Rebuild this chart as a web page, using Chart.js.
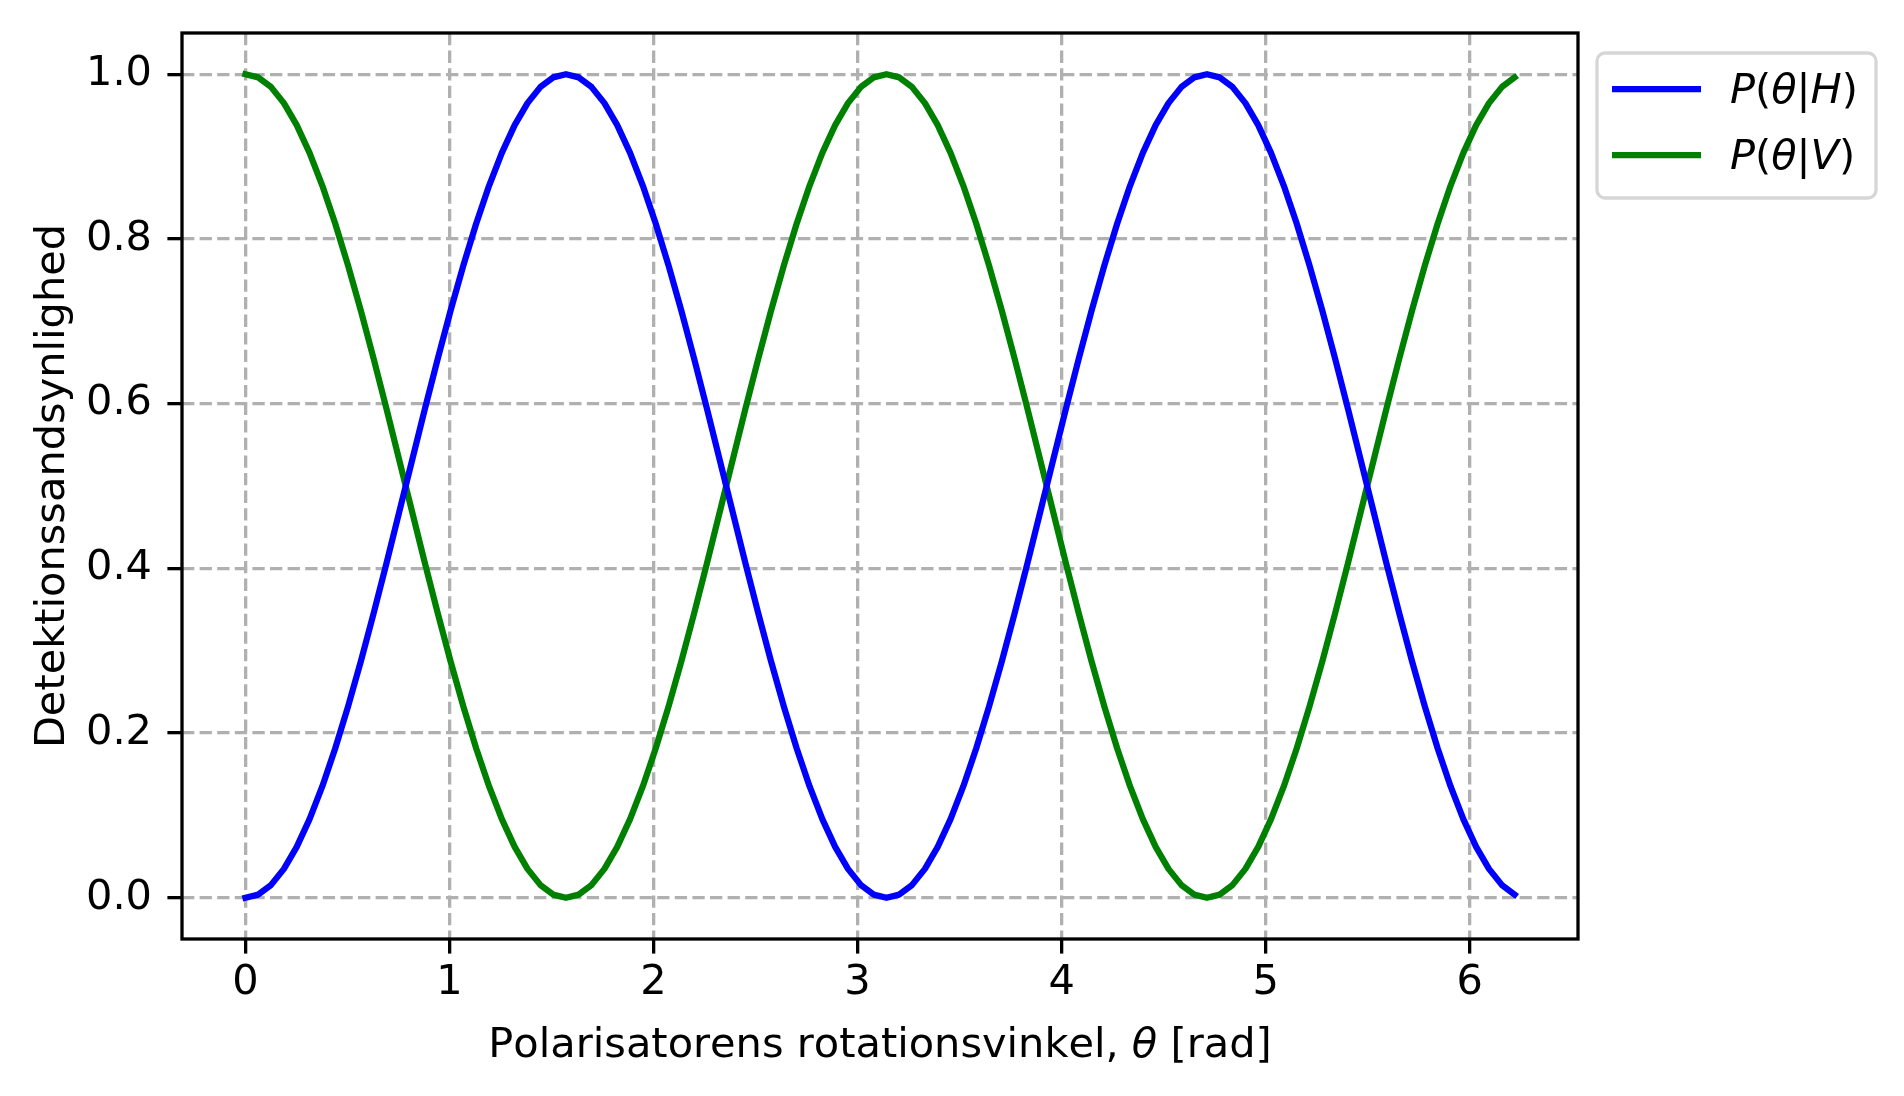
<!DOCTYPE html>
<html><head><meta charset="utf-8">
<script src="https://cdn.jsdelivr.net/npm/chart.js@4.4.0/dist/chart.umd.min.js"></script>
<style>html,body{margin:0;padding:0;background:#fff;overflow:hidden}canvas{display:block}</style>
</head><body>
<canvas id="c" width="1904" height="1096" style="width:1904px;height:1096px"></canvas>
<script>
const thetaValues = [
  0, 0.0628, 0.1257, 0.1885, 0.2513, 0.3142, 0.3770, 0.4398, 0.5027, 0.5655,
  0.6283, 0.6912, 0.7540, 0.8168, 0.8796, 0.9425, 1.0053, 1.0681, 1.1310, 1.1938,
  1.2566, 1.3195, 1.3823, 1.4451, 1.5080, 1.5708, 1.6336, 1.6965, 1.7593, 1.8221,
  1.8850, 1.9478, 2.0106, 2.0735, 2.1363, 2.1991, 2.2619, 2.3248, 2.3876, 2.4504,
  2.5133, 2.5761, 2.6389, 2.7018, 2.7646, 2.8274, 2.8903, 2.9531, 3.0159, 3.0788,
  3.1416, 3.2044, 3.2673, 3.3301, 3.3929, 3.4558, 3.5186, 3.5814, 3.6442, 3.7071,
  3.7699, 3.8327, 3.8956, 3.9584, 4.0212, 4.0841, 4.1469, 4.2097, 4.2726, 4.3354,
  4.3982, 4.4611, 4.5239, 4.5867, 4.6496, 4.7124, 4.7752, 4.8381, 4.9009, 4.9637,
  5.0265, 5.0894, 5.1522, 5.2150, 5.2779, 5.3407, 5.4035, 5.4664, 5.5292, 5.5920,
  5.6549, 5.7177, 5.7805, 5.8434, 5.9062, 5.9690, 6.0319, 6.0947, 6.1575, 6.2204
];
const probH = [
  0, 0.0039, 0.0157, 0.0351, 0.0618, 0.0955, 0.1355, 0.1813, 0.2321, 0.2871,
  0.3455, 0.4063, 0.4686, 0.5314, 0.5937, 0.6545, 0.7129, 0.7679, 0.8187, 0.8645,
  0.9045, 0.9382, 0.9649, 0.9843, 0.9961, 1.0000, 0.9961, 0.9843, 0.9649, 0.9382,
  0.9045, 0.8645, 0.8187, 0.7679, 0.7129, 0.6545, 0.5937, 0.5314, 0.4686, 0.4063,
  0.3455, 0.2871, 0.2321, 0.1813, 0.1355, 0.0955, 0.0618, 0.0351, 0.0157, 0.0039,
  0, 0.0039, 0.0157, 0.0351, 0.0618, 0.0955, 0.1355, 0.1813, 0.2321, 0.2871,
  0.3455, 0.4063, 0.4686, 0.5314, 0.5937, 0.6545, 0.7129, 0.7679, 0.8187, 0.8645,
  0.9045, 0.9382, 0.9649, 0.9843, 0.9961, 1.0000, 0.9961, 0.9843, 0.9649, 0.9382,
  0.9045, 0.8645, 0.8187, 0.7679, 0.7129, 0.6545, 0.5937, 0.5314, 0.4686, 0.4063,
  0.3455, 0.2871, 0.2321, 0.1813, 0.1355, 0.0955, 0.0618, 0.0351, 0.0157, 0.0039
];
const probV = [
  1.0000, 0.9961, 0.9843, 0.9649, 0.9382, 0.9045, 0.8645, 0.8187, 0.7679, 0.7129,
  0.6545, 0.5937, 0.5314, 0.4686, 0.4063, 0.3455, 0.2871, 0.2321, 0.1813, 0.1355,
  0.0955, 0.0618, 0.0351, 0.0157, 0.0039, 0, 0.0039, 0.0157, 0.0351, 0.0618,
  0.0955, 0.1355, 0.1813, 0.2321, 0.2871, 0.3455, 0.4063, 0.4686, 0.5314, 0.5937,
  0.6545, 0.7129, 0.7679, 0.8187, 0.8645, 0.9045, 0.9382, 0.9649, 0.9843, 0.9961,
  1.0000, 0.9961, 0.9843, 0.9649, 0.9382, 0.9045, 0.8645, 0.8187, 0.7679, 0.7129,
  0.6545, 0.5937, 0.5314, 0.4686, 0.4063, 0.3455, 0.2871, 0.2321, 0.1813, 0.1355,
  0.0955, 0.0618, 0.0351, 0.0157, 0.0039, 0, 0.0039, 0.0157, 0.0351, 0.0618,
  0.0955, 0.1355, 0.1813, 0.2321, 0.2871, 0.3455, 0.4063, 0.4686, 0.5314, 0.5937,
  0.6545, 0.7129, 0.7679, 0.8187, 0.8645, 0.9045, 0.9382, 0.9649, 0.9843, 0.9961
];
const xTickValues = [0, 1, 2, 3, 4, 5, 6];
const yTickValues = [0, 0.2, 0.4, 0.6, 0.8, 1.0];
const seriesLabels = ['P(θ|H)', 'P(θ|V)'];
const seriesColors = ['#0000ff', '#008000'];
const xAxisTitle = 'Polarisatorens rotationsvinkel, θ [rad]';
const yAxisTitle = 'Detektionssandsynlighed';

const FONT = '"DejaVu Sans"';
const FS = 41.5;

function drawMixed(ctx, text, x, y, italicTest) {
  for (const ch of text) {
    ctx.font = (italicTest(ch) ? 'italic ' : '') + FS + 'px ' + FONT;
    ctx.fillText(ch, x, y);
    x += ctx.measureText(ch).width;
  }
  return x;
}
function measureMixed(ctx, text, italicTest) {
  let w = 0;
  for (const ch of text) {
    ctx.font = (italicTest(ch) ? 'italic ' : '') + FS + 'px ' + FONT;
    w += ctx.measureText(ch).width;
  }
  return w;
}
const mathItalic = ch => /[A-Za-zθ]/.test(ch);
const thetaOnly = ch => ch === 'θ';

const decor = {
  id: 'decor',
  afterDatasetsDraw(chart) {
    const ctx = chart.ctx, a = chart.chartArea;
    ctx.save();
    ctx.strokeStyle = '#000';
    ctx.lineWidth = 3.3;
    ctx.lineJoin = 'miter';
    ctx.strokeRect(a.left, a.top, a.right - a.left, a.bottom - a.top);
    ctx.fillStyle = '#000';
    ctx.textBaseline = 'alphabetic';
    ctx.textAlign = 'left';
    const wx = measureMixed(ctx, xAxisTitle, thetaOnly);
    drawMixed(ctx, xAxisTitle, (a.left + a.right) / 2 - wx / 2, 1057, thetaOnly);
    ctx.save();
    ctx.translate(64, (a.top + a.bottom) / 2);
    ctx.rotate(-Math.PI / 2);
    ctx.font = FS + 'px ' + FONT;
    ctx.textAlign = 'center';
    ctx.fillText(yAxisTitle, 0, 0);
    ctx.restore();
    const lx = 1597, ly = 53, lw = 279, lh = 145, r = 8;
    ctx.beginPath();
    ctx.roundRect(lx, ly, lw, lh, r);
    ctx.fillStyle = 'rgba(255,255,255,0.8)';
    ctx.fill();
    ctx.strokeStyle = '#d6d6d6';
    ctx.lineWidth = 3.3;
    ctx.stroke();
    const rows = [89, 155];
    seriesLabels.forEach((lab, i) => {
      ctx.beginPath();
      ctx.strokeStyle = seriesColors[i];
      ctx.lineWidth = 6.25;
      ctx.lineCap = 'butt';
      ctx.moveTo(1612, rows[i]);
      ctx.lineTo(1701, rows[i]);
      ctx.stroke();
      ctx.fillStyle = '#000';
      ctx.textAlign = 'left';
      drawMixed(ctx, lab, 1730, rows[i] + 14, mathItalic);
    });
    ctx.restore();
  }
};

const tickFont = { family: 'DejaVu Sans', size: FS };
const gridOpts = { color: '#b0b0b0', lineWidth: 3.3, tickColor: '#000', tickWidth: 3.3, tickLength: 14.6, drawTicks: true, tickBorderDash: [] };
function zeroPad(s) { s.paddingTop = 0; s.paddingBottom = 0; s.paddingLeft = 0; s.paddingRight = 0; }

new Chart(document.getElementById('c'), {
  type: 'line',
  data: {
    datasets: seriesLabels.map((lab, i) => ({
      label: lab,
      data: thetaValues.map((x, k) => ({ x: x, y: (i === 0 ? probH : probV)[k] })),
      borderColor: seriesColors[i],
      backgroundColor: seriesColors[i],
      borderWidth: 6.25,
      pointRadius: 0,
      tension: 0,
      fill: false,
      borderCapStyle: 'square',
      borderJoinStyle: 'round'
    }))
  },
  options: {
    responsive: false,
    devicePixelRatio: 1,
    animation: false,
    layout: { padding: { left: 0, top: 33, right: 326, bottom: 0 } },
    plugins: { legend: { display: false }, tooltip: { enabled: false } },
    scales: {
      x: {
        type: 'linear', min: -0.311, max: 6.531,
        afterBuildTicks: s => { s.ticks = xTickValues.map(v => ({ value: v })); },
        afterFit: s => { s.height = 157; zeroPad(s); },
        ticks: { font: tickFont, color: '#000', padding: 5, maxRotation: 0, autoSkip: false, callback: v => String(v) },
        grid: gridOpts,
        border: { display: false, dash: [12.3, 5.3] }
      },
      y: {
        type: 'linear', min: -0.05, max: 1.05,
        afterBuildTicks: s => { s.ticks = yTickValues.map(v => ({ value: v })); },
        afterFit: s => { s.width = 182; zeroPad(s); },
        ticks: { font: tickFont, color: '#000', padding: 15.4, autoSkip: false, callback: v => v.toFixed(1) },
        grid: gridOpts,
        border: { display: false, dash: [12.3, 5.3] }
      }
    }
  },
  plugins: [decor]
});
</script>
</body></html>
